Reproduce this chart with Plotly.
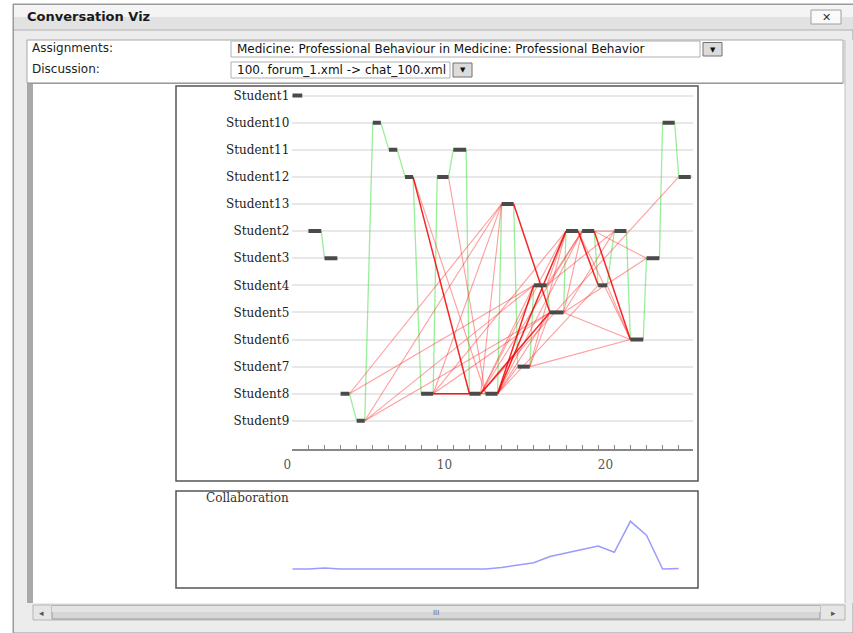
import plotly.graph_objects as go

W, H = 853, 633

# ---------------- data ----------------
students = ["Student1", "Student10", "Student11", "Student12", "Student13", "Student2",
            "Student3", "Student4", "Student5", "Student6", "Student7", "Student8", "Student9"]

# sequence of posts (turn index -> author)
post_author = ["Student1", "Student2", "Student3", "Student8", "Student9", "Student10",
               "Student11", "Student12", "Student8", "Student12", "Student11", "Student8",
               "Student8", "Student13", "Student7", "Student4", "Student5", "Student2",
               "Student2", "Student4", "Student2", "Student6", "Student3", "Student10",
               "Student12"]
post_start = [0, 1, 2, 3, 4, 5, 6, 7, 8, 9, 10, 11, 12, 13, 14, 15, 16, 17, 18, 19, 20, 21, 22, 23, 24]
post_len = [0.62, 0.8, 0.8, 0.55, 0.5, 0.5, 0.52, 0.5, 0.75, 0.7, 0.8, 0.7, 0.75, 0.75,
            0.75, 0.8, 0.85, 0.75, 0.75, 0.55, 0.75, 0.8, 0.8, 0.75, 0.75]

# consecutive-turn transitions drawn in green (from post, to post)
seq_links = [(1, 2), (3, 4), (4, 5), (5, 6), (6, 7), (7, 8), (8, 9), (9, 10), (10, 11),
             (11, 12), (12, 13), (13, 14), (14, 15), (15, 16), (16, 17), (17, 18), (18, 19),
             (19, 20), (20, 21), (21, 22), (22, 23), (23, 24)]

# reply links drawn in red (from post, to post, strength)
reply_links = [(3, 13, 1), (3, 15, 1), (4, 13, 1), (4, 15, 1), (4, 16, 1),
               (7, 11, 2), (7, 12, 1), (9, 12, 1),
               (8, 11, 2), (8, 12, 1), (8, 13, 1), (8, 16, 1), (8, 17, 1),
               (11, 13, 1), (11, 15, 1), (11, 16, 2), (11, 17, 1), (11, 18, 1), (11, 24, 1),
               (12, 14, 1), (12, 15, 2), (12, 16, 1), (12, 17, 2), (12, 18, 1), (12, 19, 1),
               (13, 16, 2),
               (14, 16, 1), (14, 17, 1), (14, 21, 1),
               (15, 17, 1), (15, 18, 1), (15, 20, 1),
               (16, 18, 1), (16, 20, 1), (16, 21, 1), (16, 22, 1),
               (17, 19, 2), (17, 21, 1),
               (18, 20, 1), (18, 21, 2), (18, 22, 1),
               (19, 21, 1)]

x_tick_vals = [0, 10, 20]
x_tick_text = ["0", "10", "20"]

collab_x = list(range(25))
collab_y = [0, 0, 0.02, 0, 0, 0, 0, 0, 0, 0, 0, 0, 0, 0.03, 0.08, 0.13, 0.26, 0.34,
            0.41, 0.48, 0.35, 1.0, 0.71, 0, 0.01]

assignment_text = "Medicine: Professional Behaviour in Medicine: Professional Behavior"
discussion_text = "100. forum_1.xml -> chat_100.xml"

# ---------------- helpers ----------------
def px(x):
    return x / W

def py(y):
    return 1 - y / H

row_of = {s: len(students) - i for i, s in enumerate(students)}  # Student1 top=13, Student9 = 1

# ---------------- traces ----------------
fig = go.Figure()

# green transitions
gx, gy = [], []
for a, b in seq_links:
    gx += [post_start[a] + post_len[a], post_start[b], None]
    gy += [row_of[post_author[a]], row_of[post_author[b]], None]
fig.add_trace(go.Scatter(x=gx, y=gy, mode="lines", hoverinfo="skip",
                         line=dict(color="rgba(70,225,70,0.55)", width=1.3),
                         xaxis="x", yaxis="y", showlegend=False))

# red reply links
for strength, col, wd in [(1, "rgba(255,40,40,0.45)", 1.1), (2, "rgba(245,0,0,0.85)", 1.5)]:
    rx, ry = [], []
    for a, b, s in reply_links:
        if s != strength:
            continue
        rx += [post_start[a] + post_len[a], post_start[b], None]
        ry += [row_of[post_author[a]], row_of[post_author[b]], None]
    fig.add_trace(go.Scatter(x=rx, y=ry, mode="lines", hoverinfo="skip",
                             line=dict(color=col, width=wd),
                             xaxis="x", yaxis="y", showlegend=False))

# post bars
bx, by = [], []
for s, l, a in zip(post_start, post_len, post_author):
    bx += [s, s + l, None]
    by += [row_of[a], row_of[a], None]
fig.add_trace(go.Scatter(x=bx, y=by, mode="lines", hoverinfo="skip",
                         line=dict(color="#4a4a4a", width=4),
                         xaxis="x", yaxis="y", showlegend=False))

# collaboration line
fig.add_trace(go.Scatter(x=collab_x, y=collab_y, mode="lines", hoverinfo="skip",
                         line=dict(color="rgba(120,120,255,0.75)", width=1.5),
                         xaxis="x2", yaxis="y2", showlegend=False))

# ---------------- axes ----------------
x_left_px, x_right_px = 292.3, 693.0
unit = 16.1
x_range = [0, (x_right_px - x_left_px) / unit]

y_bottom_px, y_top_px = 449.0, 88.6
ys = 27.1
y0 = -0.04
y_range = [y0, y0 + (y_bottom_px - y_top_px) / ys]

fig.update_layout(
    xaxis=dict(domain=[px(x_left_px), px(x_right_px)], range=x_range, automargin=False,
               showgrid=False, zeroline=False, showline=True, linecolor="#888888", linewidth=1.5,
               ticks="inside", ticklen=4, tickcolor="#888888", tickwidth=1,
               tickvals=x_tick_vals, ticktext=x_tick_text, ticklabelposition="outside left",
               ticklabelstandoff=4,
               minor=dict(ticks="inside", ticklen=4, tickcolor="#888888", dtick=1, tick0=0, showgrid=False),
               tickfont=dict(family="DejaVu Serif", size=12, color="#555555"),
               fixedrange=True, anchor="y"),
    yaxis=dict(domain=[py(y_bottom_px), py(y_top_px)], range=y_range, automargin=False,
               tickvals=[row_of[s] for s in students], ticktext=students,
               showgrid=True, gridcolor="#e8e8e8", gridwidth=1.8,
               zeroline=False, showline=False, ticks="", ticklabelstandoff=2,
               tickfont=dict(family="DejaVu Serif", size=12, color="#222222"),
               fixedrange=True, anchor="x"),
    xaxis2=dict(domain=[px(x_left_px), px(x_right_px)], range=x_range, visible=False,
                automargin=False, fixedrange=True, anchor="y2"),
    yaxis2=dict(domain=[py(583.3), py(507.0)], range=[-0.3, 1.3], visible=False,
                automargin=False, fixedrange=True, anchor="x2"),
)

# ---------------- chrome (shapes) ----------------
shapes = []
def rect(x0, y0_, x1, y1, fill, line=None, lw=1):
    shapes.append(dict(type="rect", xref="paper", yref="paper",
                       x0=px(x0), x1=px(x1), y0=py(y1), y1=py(y0_),
                       fillcolor=fill, line=dict(color=line or fill, width=lw if line else 0),
                       layer="below"))

def hline(x0, x1, y, color, lw=1):
    shapes.append(dict(type="line", xref="paper", yref="paper",
                       x0=px(x0), x1=px(x1), y0=py(y), y1=py(y),
                       line=dict(color=color, width=lw), layer="below"))

def vline(x, y0_, y1, color, lw=1):
    shapes.append(dict(type="line", xref="paper", yref="paper",
                       x0=px(x), x1=px(x), y0=py(y0_), y1=py(y1),
                       line=dict(color=color, width=lw), layer="below"))

# window background
rect(13, 4, 853, 633, "#ececec", "#9a9a9a", 1)
# title bar
rect(13, 4, 853, 17, "#f4f4f4")
rect(13, 17, 853, 30, "#e2e2e2")
hline(13, 853, 4.5, "#9a9a9a")
hline(13, 853, 30, "#b0b0b0")
vline(13.5, 4, 633, "#9a9a9a")
# close button
rect(811, 10, 841, 24, "#fafafa", "#a0a0a0", 1)
# form area
rect(27, 40, 843, 83, "#ffffff", "#a8a8a8", 1)
hline(27, 843, 83.5, "#9a9a9a", 1.5)
# dropdowns
rect(231, 41, 700, 57, "#ffffff", "#b0b0b0", 1)
rect(703, 42.5, 722, 56, "#dcdcdc", "#707070", 1)
rect(231, 62, 450, 78, "#ffffff", "#b0b0b0", 1)
rect(453, 63, 472, 77, "#dcdcdc", "#707070", 1)
# content area
rect(27, 84, 845, 603, "#ffffff")
rect(27, 84, 33, 603, "#a9a9a9")
rect(845, 40, 853, 603, "#ebebeb")
vline(845, 40, 603, "#c0c0c0")
# chart panels
rect(176, 86, 698, 481, "#ffffff", "#555555", 1.5)
rect(176, 491, 698, 588, "#ffffff", "#555555", 1.5)
# bottom scrollbar
rect(33, 605, 845, 620, "#e6e6e6", "#b5b5b5", 1)
rect(52, 606, 820, 619, "#d6d6d6", "#9a9a9a", 1)
rect(52, 606, 820, 612, "#e4e4e4")

# ---------------- text (annotations) ----------------
ann = []
def text(x, y, s, size=12, color="#222222", family="DejaVu Sans", xanchor="left", bold=False):
    ann.append(dict(x=px(x), y=py(y), xref="paper", yref="paper", showarrow=False,
                    text=("<b>%s</b>" % s) if bold else s, xanchor=xanchor, yanchor="middle",
                    font=dict(size=size, color=color, family=family)))

text(25, 16.5, "Conversation Viz", size=13, color="#1a1a1a", bold=True)
text(826, 17, "✕", size=11, color="#333333", xanchor="center", bold=True)
text(30, 48, "Assignments:", size=12, color="#222222")
text(30, 69, "Discussion:", size=12, color="#222222")
text(235, 49, assignment_text, size=12, color="#111111")
text(235, 70, discussion_text, size=12, color="#111111")
text(712.5, 50, "▼", size=7, color="#111111", xanchor="center")
text(462.5, 70.5, "▼", size=7, color="#111111", xanchor="center")
text(204, 497.5, "Collaboration", size=12, color="#333333", family="DejaVu Serif")
text(41, 612.5, "◂", size=9, color="#555555", xanchor="center")
text(833, 612.5, "▸", size=9, color="#555555", xanchor="center")
text(436, 612.5, "III", size=7, color="#666666", xanchor="center")

fig.update_layout(
    width=W, height=H, margin=dict(l=0, r=0, t=0, b=0, pad=0, autoexpand=False),
    paper_bgcolor="#ffffff", plot_bgcolor="rgba(0,0,0,0)",
    shapes=shapes, annotations=ann, showlegend=False,
)

fig.write_html("out.html", config={"displayModeBar": False},
               post_script="document.body.style.margin='0px';document.body.style.padding='0px';"
                           "document.documentElement.style.overflow='hidden';")
